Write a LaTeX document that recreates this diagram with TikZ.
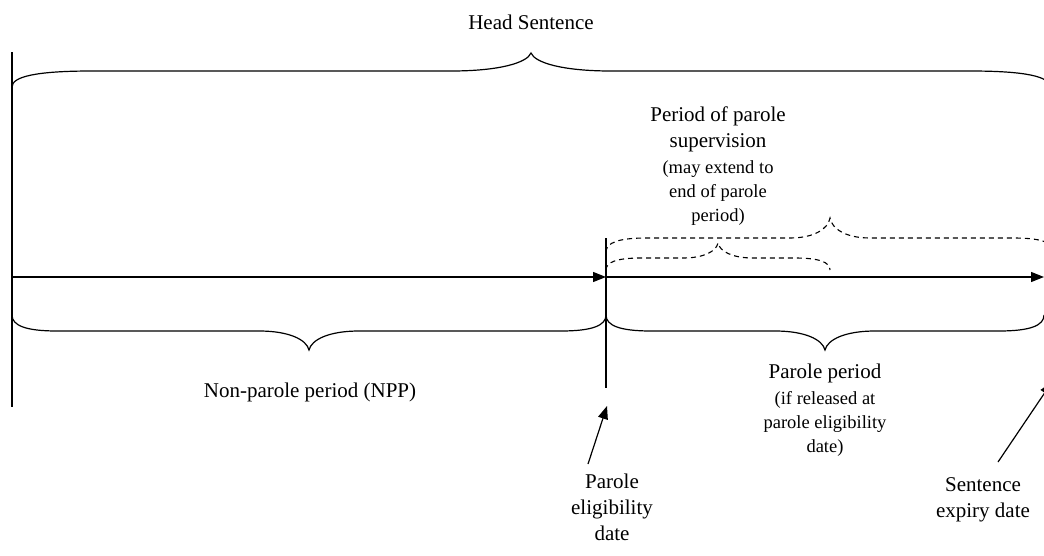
\documentclass[tikz,border=0pt]{standalone}
\usepackage{fontspec}
\setmainfont{Liberation Serif}
\usetikzlibrary{arrows.meta, positioning}

% curly brace: [opts] {x left}{x right}{y ends}{y flat}{y tip}{end width}{tip width}
\newcommand{\spanbrace}[8][]{%
  \draw[#1] (#2,#4) .. controls (#2,{#5+0.35*(#4-#5)}) and ({#2+0.3*#7},#5) .. ({#2+#7},#5)
    -- ({(#2+#3)/2-#8},#5)
    .. controls ({(#2+#3)/2-0.4*#8},#5) and ({(#2+#3)/2-0.05*#8},{#5+0.45*(#6-#5)}) .. ({(#2+#3)/2},#6)
    .. controls ({(#2+#3)/2+0.05*#8},{#5+0.45*(#6-#5)}) and ({(#2+#3)/2+0.4*#8},#5) .. ({(#2+#3)/2+#8},#5)
    -- ({#3-#7},#5) .. controls ({#3-0.3*#7},#5) and (#3,{#5+0.35*(#4-#5)}) .. (#3,#4);}

\tikzset{
  main text/.style={align=center, inner sep=0pt, font=\fontsize{21}{26}\selectfont},
  note text/.style={align=center, inner sep=0pt, font=\fontsize{18.5}{24}\selectfont},
  time line/.style={line width=1.2pt},
  brace line/.style={line width=1.2pt},
  maybe brace/.style={line width=1.1pt, dash pattern=on 5pt off 4pt},
}

\begin{document}
\begin{tikzpicture}[x=1pt, y=-1pt, >={Triangle[length=13pt, width=10pt]}]
        \useasboundingbox (0,0) rectangle (1044,555);

        % Time line
        \coordinate (start) at (12,277);
        \coordinate (ped) at (606,277);
        \coordinate (sed) at (1044,277);
        \draw[->, time line] (start) -- (ped);
        \draw[->, time line] (ped) -- (sed);
        \draw[time line] (12,52) -- (12,407);
        \draw[time line] (606,238) -- (606,388);

        % Braces
        \spanbrace[brace line]{12}{1050}{87}{71}{53}{80}{80}
        \spanbrace[brace line]{12}{606}{315}{331}{350}{45}{50}
        \spanbrace[brace line]{606}{1044}{315}{331}{350}{45}{50}
        \spanbrace[maybe brace]{606}{830}{270}{258}{243}{35}{35}
        \spanbrace[maybe brace]{606}{1054}{252}{238}{218}{40}{40}

        % Labels
        \node[main text] (head) at (531,22) {Head Sentence};
        \node[main text] (supervision) at (718,129) {Period of parole\\supervision};
        \node[note text, below=9pt of supervision] (supnote) {(may extend to\\end of parole\\period)};
        \node[main text] (npp) at (310,392) {Non-parole period (NPP)};
        \node[main text] (parole) at (825,373) {Parole period};
        \node[note text, below=9pt of parole] (parolenote) {(if released at\\parole eligibility\\date)};
        \node[main text] (pedlabel) at (612,507) {Parole\\eligibility\\date};
        \node[main text] (sedlabel) at (983,500) {Sentence\\expiry date};

        % Pointers
        \coordinate (pedtail) at (588,464);
        \coordinate (pedtip) at (607,406);
        \draw[->, line width=1.2pt] (pedtail) -- (pedtip);
        \coordinate (sedtail) at (998,462);
        \coordinate (sedtip) at (1052,382);
        \draw[->, line width=1.2pt] (sedtail) -- (sedtip);
    \end{tikzpicture}
\end{document}
